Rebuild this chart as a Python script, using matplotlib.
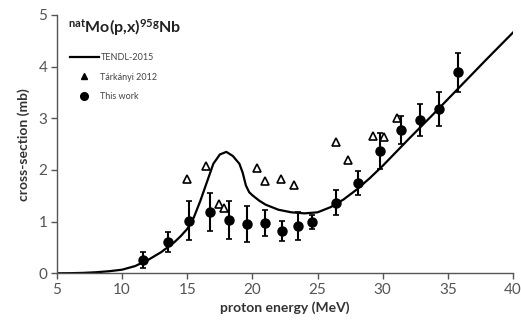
import matplotlib
matplotlib.use("Agg")
import matplotlib.pyplot as plt
from matplotlib.lines import Line2D

plt.rcParams["font.family"] = ["Lato", "DejaVu Sans"]
plt.rcParams["mathtext.fontset"] = "custom"
plt.rcParams["mathtext.rm"] = "Lato"
plt.rcParams["mathtext.bf"] = "Lato:bold"

# TENDL-2015 curve
tendl_e = [5, 6, 7, 8, 9, 10, 11, 12, 13, 14, 14.5, 15, 15.5, 16, 16.5, 17, 17.5, 18,
           18.5, 19, 19.25, 19.5, 19.75, 20, 20.5, 21, 22, 23, 24, 25, 26, 27, 28, 29,
           30, 32, 34, 36, 38, 40]
tendl_xs = [0, 0.002, 0.008, 0.02, 0.04, 0.07, 0.14, 0.26, 0.41, 0.6, 0.72, 0.86, 1.08,
            1.40, 1.76, 2.12, 2.30, 2.35, 2.27, 2.12, 1.95, 1.70, 1.57, 1.51, 1.41, 1.33,
            1.23, 1.18, 1.16, 1.18, 1.28, 1.43, 1.62, 1.84, 2.08, 2.60, 3.11, 3.63, 4.15, 4.66]

# Tarkanyi 2012
tark_e = [15.0, 16.44, 17.43, 17.82, 20.35, 20.96, 22.16, 23.18, 26.38, 27.3, 29.23, 30.12, 31.07]
tark_xs = [1.82, 2.08, 1.35, 1.26, 2.03, 1.79, 1.82, 1.70, 2.55, 2.20, 2.66, 2.64, 3.01]

# this work
work_e = [11.62, 13.5, 15.15, 16.72, 18.2, 19.6, 20.96, 22.24, 23.47, 24.6, 26.39, 28.12,
          29.8, 31.37, 32.86, 34.34, 35.75]
work_xs = [0.26, 0.61, 1.02, 1.19, 1.03, 0.95, 0.97, 0.82, 0.91, 0.99, 1.37, 1.75,
           2.37, 2.77, 2.97, 3.18, 3.89]
work_err = [0.15, 0.19, 0.37, 0.37, 0.37, 0.35, 0.25, 0.2, 0.27, 0.14, 0.24, 0.23,
            0.35, 0.27, 0.31, 0.33, 0.38]

fig = plt.figure(figsize=(5.21, 3.28), dpi=100)
ax = fig.add_axes([0.1094, 0.1668, 0.8752, 0.7875])

ax.plot(tendl_e, tendl_xs, color="black", lw=1.6, zorder=2)
ax.plot(tark_e, tark_xs, ls="none", marker="^", ms=5.5, mfc="white", mec="black", mew=1.2, zorder=3)
ax.errorbar(work_e, work_xs, yerr=work_err, fmt="o", ms=6.5, color="black", ecolor="black",
            elinewidth=1.5, capsize=2.5, capthick=1.2, zorder=4)

ax.set_xlim(5, 40)
ax.set_ylim(0, 5)
ax.set_xticks(range(5, 41, 5))
ax.set_yticks(range(0, 6))

grey = "#555555"
for s in ["top", "right"]:
    ax.spines[s].set_visible(False)
for s in ["left", "bottom"]:
    ax.spines[s].set_color(grey)
    ax.spines[s].set_linewidth(1.0)
ax.tick_params(direction="out", length=4, width=1.0, color=grey, labelcolor=grey, labelsize=11, pad=3)

ax.set_xlabel("proton energy (MeV)", fontsize=10, fontweight="bold", color="#333333", labelpad=3)
ax.set_ylabel("cross-section (mb)", fontsize=10, fontweight="bold", color="#333333", labelpad=6)

ax.text(0.025, 0.99, r"$\mathbf{^{nat}Mo(p{,}x)^{95g}Nb}$", transform=ax.transAxes,
        fontsize=11.5, color="#222222", va="top", ha="left")

handles = [
    Line2D([], [], color="black", lw=1.6),
    Line2D([], [], ls="none", marker="^", ms=5, mfc="black", mec="black"),
    Line2D([], [], ls="none", marker="o", ms=5.5, color="black"),
]
ax.legend(handles, ["TENDL-2015", "Tárkányi 2012", "This work"], loc="upper left",
          bbox_to_anchor=(0.01, 0.885), frameon=False, fontsize=6.5, handlelength=3.2,
          labelspacing=1.2, handletextpad=0.2, labelcolor="#444444")

fig.savefig("out.png", dpi=100)
